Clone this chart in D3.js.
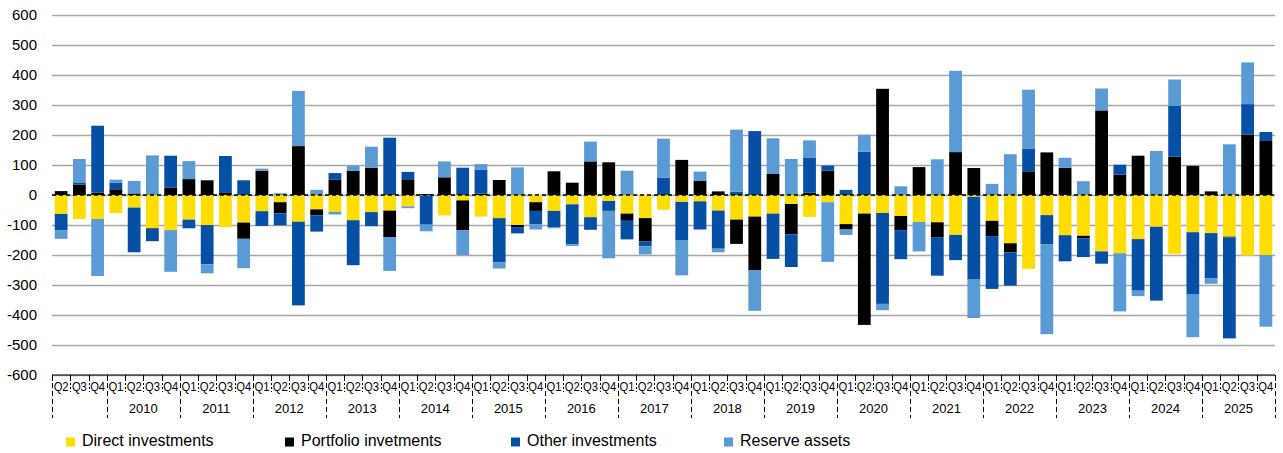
<!DOCTYPE html>
<html>
<head>
<meta charset="utf-8">
<script src="https://cdn.jsdelivr.net/npm/d3@7/dist/d3.min.js"></script>
<style>
  body { margin: 0; background: #fff; }
  text { font-family: "Liberation Sans", Arial, sans-serif; fill: #000; }
</style>
</head>
<body>
<div id="chart"></div>
<script>
// categories
var years = [2009, 2010, 2011, 2012, 2013, 2014, 2015, 2016, 2017,
  2018, 2019, 2020, 2021, 2022, 2023, 2024, 2025];
var quarterNames = ["Q1", "Q2", "Q3", "Q4"];
var firstQuarter = "2009Q2";
var yTicks = [-600, -500, -400, -300, -200, -100, 0, 100, 200, 300, 400, 500, 600];

// series values, 2009Q2 .. 2025Q4
var direct = [-63, -80, -80, -60, -42, -111, -117, -82, -100, -107, -92, -54, -24, -89, -48,
  -56, -84, -57, -52, -38, -2, -68, -18, -72, -77, -100, -24, -53, -31, -74, -20,
  -62, -77, -49, -23, -21, -52, -82, -72, -62, -30, -73, -24, -97, -62, -60, -70,
  -90, -91, -133, -6, -86, -161, -246, -67, -134, -136, -188, -194, -147, -106, -196, -124,
  -127, -139, -202, -200];
var portfolio = [13, 35, 8, 19, 5, -2, 24, 53, 49, 9, -54, 81, -37, 163, -20,
  52, 81, 91, -88, 50, 3, 59, -99, 4, 50, -7, -29, 79, 41, 112, 109,
  -24, -78, 0, 117, 48, 12, -81, -178, 70, -101, 8, 81, -18, -371, 354, -47,
  93, -51, 143, 90, -51, -30, 79, 142, 91, -8, 282, 68, 131, 0, 128, 97,
  12, -2, 201, 180];
var other = [-54, 5, 223, 22, -149, -41, 107, -29, -131, 121, 49, -49, -40, -279, -54,
  21, -150, -47, 191, 27, -97, 0, 91, 81, -147, -21, -44, -54, -133, -42, -33,
  -62, -16, 58, -129, -94, -127, 11, 213, -151, -109, 117, 17, 17, 144, -303, -97,
  0, -127, -84, -276, -176, -111, 76, -98, -87, -63, -41, 33, -172, -246, 169, -206,
  -150, -337, 102, 30];
var reserve = [-29, 80, -190, 10, 42, 132, -139, 60, -30, 0, -98, 7, 6, 184, 17,
  -9, 16, 70, -113, -6, -22, 53, -83, 18, -21, 92, -18, -4, -6, 66, -158,
  81, -27, 130, -116, 30, -12, 207, -136, 119, 120, 57, -199, -18, 57, -21, 29,
  -98, 119, 271, -128, 37, 136, 196, -299, 33, 46, 73, -194, -18, 147, 88, -144,
  -19, 169, 139, -239];

var seriesKeys = ["direct", "portfolio", "other", "reserve"];
var seriesNames = ["Direct investments", "Portfolio invetments", "Other investments", "Reserve assets"];
var seriesColors = ["#ffdd00", "#000000", "#0550a5", "#5b9bd5"];

var chartW = 1283, chartH = 453;
var plotL = 52, plotR = 1275, plotT = 15, plotB = 375;

var periods = [];
years.forEach(function (yr) {
  quarterNames.forEach(function (q) {
    if (yr + q >= firstQuarter) periods.push({year: yr, q: q, id: yr + q});
  });
});

var rows = periods.map(function (p, i) {
  return {id: p.id, direct: direct[i], portfolio: portfolio[i], other: other[i], reserve: reserve[i]};
});

var svg = d3.select("#chart").append("svg")
  .attr("width", chartW)
  .attr("height", chartH);

var x = d3.scaleBand()
  .domain(periods.map(function (p) { return p.id; }))
  .range([plotL, plotR])
  .paddingInner(0.3)
  .paddingOuter(0.15);

var y = d3.scaleLinear()
  .domain([-600, 600])
  .range([plotB, plotT]);

// grid + y labels
var yAxis = svg.append("g")
  .attr("transform", "translate(" + plotL + ",0)")
  .call(d3.axisLeft(y)
    .tickValues(yTicks)
    .tickSize(-(plotR - plotL))
    .tickPadding(15)
    .tickFormat(function (d) { return String(d); }));
yAxis.select(".domain").remove();
yAxis.selectAll(".tick line")
  .attr("stroke", "#a6a6a6")
  .attr("stroke-width", 1.4);
yAxis.selectAll(".tick text")
  .style("font-size", "15px")
  .style("font-family", "'Liberation Sans', Arial, sans-serif");

// bars
var stacked = d3.stack()
  .keys(seriesKeys)
  .offset(d3.stackOffsetDiverging)(rows);

svg.append("g").selectAll("g")
  .data(stacked)
  .enter().append("g")
    .attr("fill", function (d, i) { return seriesColors[i]; })
  .selectAll("rect")
  .data(function (d) { return d; })
  .enter().append("rect")
    .attr("x", function (d) { return x(d.data.id); })
    .attr("width", x.bandwidth())
    .attr("y", function (d) { return y(Math.max(d[0], d[1])); })
    .attr("height", function (d) { return Math.abs(y(d[0]) - y(d[1])); });

// dashed zero line
svg.append("line")
  .attr("x1", plotL).attr("x2", plotR)
  .attr("y1", y(0)).attr("y2", y(0))
  .attr("stroke", "#000")
  .attr("stroke-width", 1.4)
  .attr("stroke-dasharray", "4,3");

// category axis
var step = x.step();
var xAxis = svg.append("g");

xAxis.append("line")
  .attr("x1", plotL).attr("x2", plotR)
  .attr("y1", plotB).attr("y2", plotB)
  .attr("stroke", "#000");

d3.range(periods.length + 1).forEach(function (i) {
  var xp = Math.round(plotL + i * step) + 0.5;
  var yearEdge = i === 0 || i === periods.length || periods[i].q === "Q1";
  xAxis.append("line")
    .attr("x1", xp).attr("x2", xp)
    .attr("y1", plotB).attr("y2", plotB + 6)
    .attr("stroke", "#000");
  xAxis.append("line")
    .attr("x1", xp).attr("x2", xp)
    .attr("y1", plotB + 8).attr("y2", yearEdge ? 418 : 392)
    .attr("stroke", "#000")
    .attr("stroke-dasharray", yearEdge ? "5,3" : "2,2");
});

xAxis.selectAll("text.q")
  .data(periods)
  .enter().append("text")
    .attr("class", "q")
    .attr("x", function (d) { return x(d.id) + x.bandwidth() / 2; })
    .attr("y", 391)
    .attr("text-anchor", "middle")
    .attr("textLength", 15)
    .attr("lengthAdjust", "spacingAndGlyphs")
    .style("font-size", "12px")
    .text(function (d) { return d.q; });

xAxis.selectAll("text.yr")
  .data(years)
  .enter().append("text")
    .attr("class", "yr")
    .attr("x", function (yr) {
      var ps = periods.filter(function (p) { return p.year === yr; });
      return (x(ps[0].id) + x(ps[ps.length - 1].id) + x.bandwidth()) / 2;
    })
    .attr("y", 413)
    .attr("text-anchor", "middle")
    .style("font-size", "13px")
    .text(function (yr) { return yr === 2009 ? "" : yr; });

// legend
var legendX = [66, 285, 511, 724];
var legend = svg.append("g").selectAll("g")
  .data(seriesNames)
  .enter().append("g")
    .attr("transform", function (d, i) { return "translate(" + legendX[i] + ",442)"; });
legend.append("rect")
  .attr("x", 0).attr("y", -4.5)
  .attr("width", 9).attr("height", 9)
  .attr("fill", function (d, i) { return seriesColors[i]; });
legend.append("text")
  .attr("x", 16)
  .attr("y", 4)
  .style("font-size", "16px")
  .text(function (d) { return d; });
</script>
</body>
</html>
